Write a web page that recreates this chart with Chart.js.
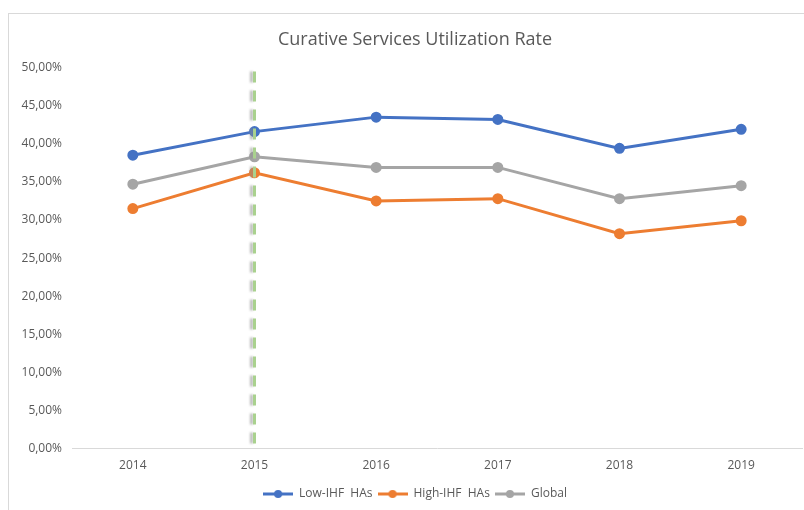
<!DOCTYPE html>
<html><head><meta charset="utf-8">
<script src="https://cdn.jsdelivr.net/npm/chart.js@4"></script>
<style>
html,body{margin:0;padding:0;background:#fff;}
#wrap{position:relative;width:804px;height:510px;}
#frame{position:absolute;left:8px;top:13px;width:800px;height:510px;border-left:1px solid #d9d9d9;border-top:1px solid #d9d9d9;box-sizing:border-box;}
canvas{position:absolute;left:0;top:0;}
</style></head>
<body><div id="wrap"><div id="frame"></div><canvas id="c" width="804" height="510"></canvas></div>
<script>
const years = ['2014','2015','2016','2017','2018','2019'];
const lowIHF = [0.385, 0.416, 0.435, 0.432, 0.394, 0.419];
const highIHF = [0.315, 0.362, 0.325, 0.328, 0.282, 0.299];
const globalRate = [0.347, 0.383, 0.369, 0.369, 0.328, 0.345];
const markerYear = '2015';

function legendIcon(color){
  const c=document.createElement('canvas'); c.width=30; c.height=10;
  const g=c.getContext('2d');
  g.strokeStyle=color; g.lineWidth=3; g.beginPath(); g.moveTo(0,5); g.lineTo(30,5); g.stroke();
  g.fillStyle=color; g.beginPath(); g.arc(15,5,4,0,Math.PI*2); g.fill();
  return c;
}

const vline = {
  id:'vline',
  afterLayout(chart){
    const shift = 9;
    if (chart.titleBlock){ chart.titleBlock.left += shift; chart.titleBlock.right += shift; }
    if (chart.legend){ chart.legend.left += shift; chart.legend.right += shift; }
  },
  afterDatasetsDraw(chart){
    const x = chart.scales.x.getPixelForValue(years.indexOf(markerYear));
    const top = chart.scales.y.getPixelForValue(0.495), bot = chart.scales.y.bottom;
    const g = chart.ctx; g.save();
    g.lineWidth=3; g.setLineDash([11,8]);
    g.strokeStyle='rgba(140,140,140,0.6)'; g.filter='blur(1px)';
    g.beginPath(); g.moveTo(x-3,top); g.lineTo(x-3,bot); g.stroke();
    g.filter='none';
    g.strokeStyle='#a9d18e'; g.lineWidth=3;
    g.beginPath(); g.moveTo(x,top); g.lineTo(x,bot); g.stroke();
    g.restore();
  }
};

const ds = (label,data,color)=>({label,data,borderColor:color,backgroundColor:color,borderWidth:3,pointRadius:4,pointHoverRadius:4,pointStyle:'circle',tension:0});

new Chart(document.getElementById('c'),{
  type:'line',
  data:{labels:years,datasets:[
    Object.assign(ds('Low-IHF  HAs',lowIHF,'#4472c4'),{legendIcon:legendIcon('#4472c4')}),
    Object.assign(ds('High-IHF  HAs',highIHF,'#ed7d31'),{legendIcon:legendIcon('#ed7d31')}),
    Object.assign(ds('Global',globalRate,'#a5a5a5'),{legendIcon:legendIcon('#a5a5a5')})
  ]},
  options:{
    responsive:false,animation:false,
    layout:{autoPadding:false,padding:{left:10,right:2,top:29,bottom:0}},
    plugins:{
      title:{display:true,text:'Curative Services Utilization Rate',color:'#595959',font:{family:'Open Sans',size:18,weight:'normal'},padding:{top:0,bottom:17}},
      legend:{position:'bottom',labels:{color:'#595959',font:{family:'Open Sans',size:12},usePointStyle:true,
        generateLabels(chart){return chart.data.datasets.map((d,i)=>({text:d.label,pointStyle:d.legendIcon,fillStyle:d.borderColor,strokeStyle:d.borderColor,fontColor:'#595959',lineWidth:0,datasetIndex:i,hidden:false}));},
        padding:5,boxWidth:30,pointStyleWidth:30}},
      tooltip:{enabled:false}
    },
    scales:{
      x:{offset:true,grid:{display:false,drawTicks:false},border:{color:'#d9d9d9',width:1},ticks:{color:'#595959',font:{family:'Open Sans',size:12},padding:10},
        afterFit(s){s.paddingLeft=0;s.paddingRight=0;}},
      y:{min:0,max:0.5,grid:{display:false,drawTicks:false},border:{display:false},
        ticks:{stepSize:0.05,color:'#595959',font:{family:'Open Sans',size:12},padding:10,
          callback:v=>(v*100).toFixed(2).replace('.',',')+'%'},
        afterFit(s){s.width=62;}}
    }
  },
  plugins:[vline]
});
</script></body></html>
